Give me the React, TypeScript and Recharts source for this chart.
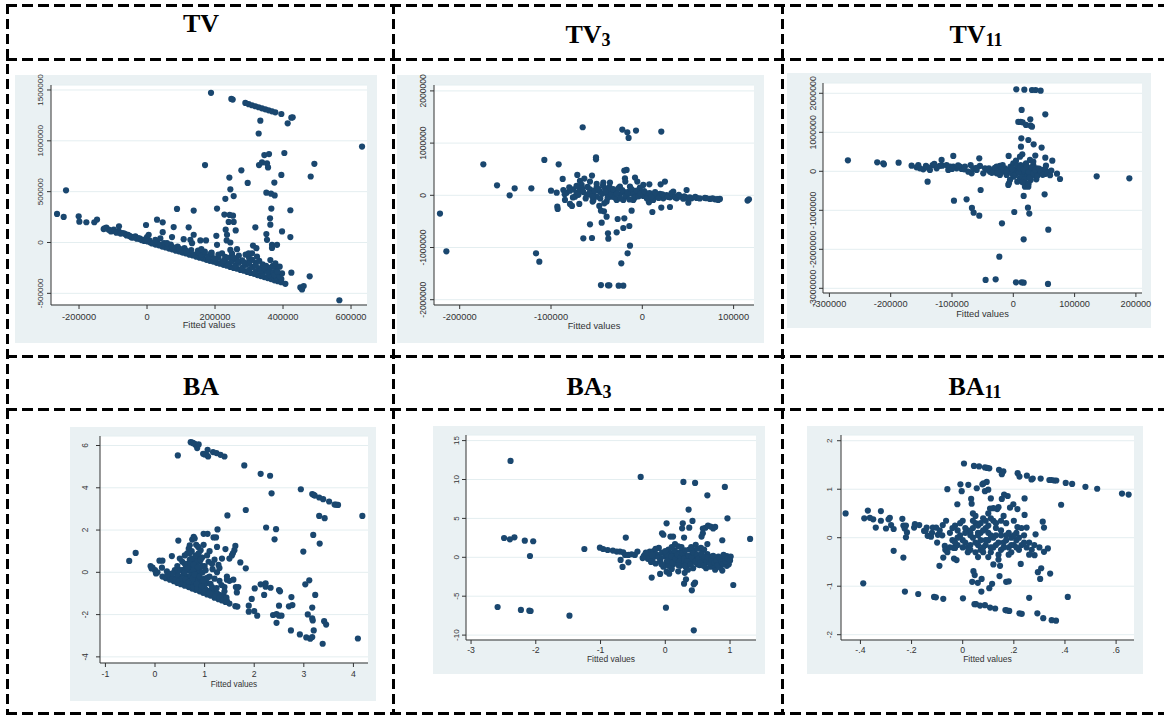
import { ScatterChart, Scatter, XAxis, YAxis, CartesianGrid } from 'recharts';

type Pt = [number, number];

// residuals (y) vs fitted values (x)
const tvPoints: Pt[] = [
  [-264700, 281000], [-245100, 252000], [-238200, 513000], [-201000, 258000], [-199000, 205000],
  [-178400, 199000], [-155000, 199000], [-147000, 225000],
  [-127500, 132000], [-119600, 146000], [-112700, 126000], [-105900, 109000], [-98000, 126000],
  [-82400, 159000], [-83300, 109000], [-73500, 93000], [-63700, 83000], [-55900, 76000],
  [-49000, 60000], [-41200, 53000], [-34300, 60000], [-27500, 43000], [-19600, 33000],
  [-11800, 26000], [-2900, 172000], [0, 53000], [4900, 76000], [6900, 20000],
  [-125000, 140000], [-108000, 118000], [-95000, 112000], [-90000, 96000], [-78000, 88000],
  [-68000, 90000], [-60000, 70000], [-52000, 66000], [-45000, 48000], [-38000, 50000],
  [-30000, 38000], [-22000, 40000], [-15000, 22000], [-8000, 15000], [-4000, 30000],
  [2000, 10000], [10000, 0],
  [15000, -10000], [25000, -20000], [35000, -28000], [45000, -40000], [55000, -48000],
  [65000, -60000], [75000, -68000], [85000, -80000], [95000, -88000], [105000, -100000],
  [115000, -108000], [125000, -120000], [135000, -128000], [145000, -140000], [155000, -150000],
  [165000, -158000], [175000, -170000], [185000, -180000], [195000, -188000], [205000, -200000],
  [215000, -208000], [225000, -220000], [235000, -228000], [245000, -240000], [255000, -250000],
  [265000, -258000], [275000, -270000], [285000, -278000], [295000, -290000], [305000, -300000],
  [315000, -308000], [325000, -320000], [335000, -330000], [345000, -340000], [355000, -350000],
  [365000, -360000], [375000, -372000], [385000, -380000], [395000, -390000],
  [20000, -5000], [40000, -25000], [60000, -45000], [80000, -60000], [100000, -85000],
  [120000, -100000], [140000, -118000], [160000, -135000], [180000, -155000], [200000, -175000],
  [220000, -195000], [240000, -210000], [260000, -230000], [280000, -250000], [300000, -270000],
  [320000, -285000], [340000, -305000], [360000, -320000], [380000, -340000], [395000, -360000],
  [30000, 10000], [50000, -5000], [70000, -20000], [90000, -40000], [110000, -55000],
  [130000, -75000], [150000, -95000], [170000, -110000], [190000, -130000], [210000, -150000],
  [230000, -165000], [250000, -185000], [270000, -200000], [290000, -220000], [310000, -240000],
  [330000, -255000], [350000, -270000], [370000, -290000], [385000, -300000],
  [210000, -120000], [230000, -140000], [260000, -160000], [280000, -175000], [300000, -190000],
  [320000, -200000], [340000, -215000], [350000, -230000], [360000, -250000], [330000, -180000],
  [300000, -150000], [270000, -130000], [250000, -110000], [240000, -150000], [290000, -120000],
  [310000, -170000], [335000, -275000], [355000, -290000], [375000, -320000], [390000, -335000],
  [380000, -260000], [370000, -230000], [345000, -250000], [320000, -230000], [300000, -210000],
  [285000, -195000], [265000, -180000], [255000, -150000], [225000, -180000], [200000, -160000],
  [180000, -140000], [160000, -120000], [150000, -80000], [170000, -90000], [190000, -100000],
  [115000, -80000], [95000, -60000], [75000, -45000],
  [29400, 224000], [46100, 198000], [46100, 102000], [24500, 26000], [39200, 40000],
  [58800, -7000], [73500, 53000], [78400, 152000], [88200, 330000], [107800, 33000],
  [122500, 149000], [127500, 26000], [137300, 314000], [137300, 76000], [132400, -7000],
  [156900, 20000], [159800, -66000], [173500, 20000], [170600, 761000], [205900, 334000],
  [203900, 66000], [205900, -23000], [188200, -106000], [227500, 275000], [230400, 430000],
  [243100, 271000], [252900, 264000], [242200, 639000], [245100, 523000], [254900, 457000],
  [240200, 202000], [254900, 202000], [260800, 119000], [231400, 126000], [235300, 76000],
  [234300, 20000], [245100, -73000], [264700, -66000], [245100, 0], [220600, -106000],
  [277500, 710000], [296100, 586000], [311800, -30000], [321600, -56000], [309000, -106000],
  [323500, -139000], [318600, 149000], [299000, -106000], [329400, 761000], [338200, 788000],
  [352900, 778000], [355900, 738000], [345100, 860000], [358800, 870000], [328400, 1072000],
  [333300, 1198000], [374500, 589000], [351000, 490000], [364700, 480000], [375500, 463000],
  [365700, 334000], [361800, 238000], [362700, 175000], [351000, 83000], [352900, 26000],
  [367600, -23000], [382400, -23000], [367600, -53000], [362700, -172000], [377500, -205000],
  [390200, -238000], [397100, -304000], [383300, -287000], [403900, 880000], [395100, 665000],
  [397100, 109000], [421600, 317000], [421600, 53000], [424500, -297000], [406900, -406000],
  [478400, -333000], [451000, -442000], [455900, -462000], [460800, -429000], [481400, 649000],
  [492200, 774000], [565700, -568000], [632400, 943000],
  [188200, 1472000], [248000, 1412000], [252000, 1406000], [289200, 1373000], [299000, 1360000],
  [308800, 1350000], [318600, 1340000], [328400, 1330000], [338200, 1320000], [348000, 1310000],
  [357800, 1300000], [367600, 1290000], [377400, 1280000], [395100, 1264000], [428400, 1231000],
  [424500, 1228000], [413700, 1172000],
];

const tv3Points: Pt[] = [
  [-221600, -351000], [-214600, -1074000], [-174100, 594000], [-159100, 192000], [-145300, 0],
  [-139800, 134000], [-121500, 134000], [-116400, -1112000], [-112800, -1272000], [-107300, 677000],
  [-100000, 89000], [-91600, 594000], [-93800, 51000], [-93100, -217000], [-92700, -262000],
  [-87200, 313000], [-84700, -89000], [-79200, -166000], [-77000, -204000], [-71200, 390000],
  [-68300, 275000], [-65300, 1304000], [-64600, -824000], [-63500, 320000], [-69000, -166000],
  [-57300, -556000], [-55100, -818000], [-55100, 377000], [-54400, -121000], [-50700, 690000],
  [-50700, 728000], [-47100, -204000], [-45300, -294000], [-44500, -524000], [-42000, -307000],
  [-41600, -153000], [-39100, -409000], [-37600, -728000], [-37200, -831000], [-45300, -1719000],
  [-37600, -1725000], [-36100, -1725000], [-25900, -1732000], [-20800, -1732000], [-23000, -1304000],
  [-28100, -709000], [-27000, -454000], [-19700, -441000], [-20800, -626000], [-14200, -588000],
  [-16100, -1112000], [-13500, -965000], [-11700, -294000], [-21900, 1259000], [-16400, 1208000],
  [-15000, 1099000], [-6900, 1240000], [20800, 1220000], [-19700, 473000], [-17200, 486000],
  [-19000, 326000], [-18600, 262000], [-8000, 339000], [-5500, 262000], [7700, 211000],
  [20100, 211000], [24800, 262000], [11000, -320000], [20800, -236000], [7300, -134000],
  [30300, -224000], [33900, 70000], [48500, 102000], [50400, -141000], [115300, -102000],
  [116800, -77000],
  [-86500, 102000], [-82900, 51000], [-79200, 89000], [-75600, 115000], [-72000, 51000],
  [-68300, 102000], [-64600, 64000], [-61000, 6000], [-57300, 115000], [-53700, 38000],
  [-50000, 153000], [-46400, 70000], [-42700, 243000], [-40900, 134000], [-39100, 38000],
  [-35400, 102000], [-33600, -26000], [-31800, 51000], [-28100, 89000], [-24500, 19000],
  [-20800, 70000], [-17200, -26000], [-13500, 38000], [-9900, 89000], [-6200, 6000],
  [-2600, 51000], [1100, -13000], [4700, 38000], [8400, -38000], [12000, 19000],
  [15700, -26000], [19300, 26000], [23000, -58000], [26600, 6000], [30300, -38000],
  [33900, -13000], [37600, -58000], [41200, -26000], [44900, -64000], [48500, -45000],
  [54000, -58000], [59500, -51000], [68600, -51000], [74100, -70000], [79600, -77000],
  [83200, -89000], [85000, -70000],
  [-57300, 262000], [-50000, 217000], [-35400, 243000], [-28100, -89000], [-53700, -102000],
  [-39100, -121000], [-20800, -89000], [-13500, 166000], [1100, 198000], [-50000, -26000],
  [-24500, 166000], [-9900, -89000], [-2600, 147000], [12000, -89000], [-66400, 198000],
  [-73700, -26000],
  [-85000, 20000], [-80000, 150000], [-76000, -40000], [-72000, 180000], [-70000, 10000],
  [-66000, 140000], [-62000, -60000], [-60000, 160000], [-58000, 40000], [-55000, -20000],
  [-52000, 90000], [-48000, 120000], [-46000, -60000], [-44000, 30000], [-43000, 190000],
  [-40000, 80000], [-38000, -50000], [-36000, 160000], [-34000, 20000], [-32000, 120000],
  [-30000, -40000], [-28000, 30000], [-26000, 140000], [-24000, -60000], [-22000, 100000],
  [-18000, -10000], [-16000, 60000], [-14000, -80000], [-12000, 120000], [-10000, 20000],
  [-8000, -40000], [-6000, 90000], [-4000, -20000], [-2000, 30000], [2000, 80000],
  [5000, -60000], [8000, 40000], [10000, -30000], [14000, 60000], [18000, -50000],
  [22000, 20000], [28000, -30000], [32000, 40000], [36000, -40000], [40000, 10000],
  [46000, -20000], [52000, -40000], [58000, -30000], [63000, -60000], [70000, -55000],
  [77000, -60000], [82000, -75000],
];

const tv11Points: Pt[] = [
  [-269800, 282000], [-222000, 231000], [-212200, 205000], [-211100, 179000], [-187100, 222000],
  [-165900, 145000], [-157800, 103000], [-155000, 162000], [-146900, 51000], [-142500, 137000],
  [-139800, -265000], [-131600, 162000], [-128900, 188000], [-117000, 291000], [-115900, 145000],
  [-106100, 34000], [-97900, 393000], [-97900, 120000], [-96800, -752000], [-87000, 120000],
  [-84300, 60000], [-76200, -718000], [-69600, 162000], [-68000, -51000], [-67500, -940000],
  [-64700, -1060000], [-55500, 333000], [-54400, 137000], [-53300, -479000], [-55500, -1137000],
  [-45200, -2786000], [-28800, -2769000], [-22800, -2188000], [-18500, -1333000], [-39700, 77000],
  [-32600, 34000], [-21800, 137000], [-17400, 162000], [-8200, -350000], [-7100, -308000],
  [-7600, 393000], [1600, -1043000], [4400, -2846000], [13600, -2846000], [16900, -2855000],
  [4900, 2103000], [18000, 2094000], [30500, 2085000], [36400, 2085000], [44600, 2068000],
  [13600, 1573000], [52200, 1462000], [8200, 1265000], [12000, 1265000], [15200, 1256000],
  [20700, 1188000], [28300, 1171000], [30500, 1145000], [27700, 1333000], [13100, 846000],
  [12500, 632000], [24500, 803000], [33200, 692000], [46200, 607000], [14700, 436000],
  [35900, 402000], [52200, 350000], [53300, 145000], [63600, 273000], [16900, -632000],
  [23900, -932000], [26100, -1085000], [51100, -590000], [57100, -1496000], [16900, -1744000],
  [56600, -2889000], [37500, -205000], [71300, -60000], [76200, -197000], [136000, -128000],
  [189300, -179000],
  [-27200, -51000], [-21800, -94000], [-16300, -9000], [-13600, 77000], [-10900, -94000],
  [-6500, 34000], [-4400, 120000], [-2700, -51000], [0, 205000], [0, -137000],
  [2700, 34000], [4400, 273000], [5400, -51000], [6500, -265000], [8200, 120000],
  [9800, -9000], [10900, -179000], [12000, 162000], [13600, 34000], [15200, -94000],
  [16300, 120000], [17400, -265000], [19000, -9000], [20700, 205000], [21800, -137000],
  [22800, -350000], [24500, 77000], [26100, -51000], [27200, 291000], [28300, -222000],
  [29900, 34000], [31600, -94000], [32600, 162000], [35400, -9000], [38100, 77000],
  [40800, -51000], [43500, 17000], [46200, -34000], [49000, 34000], [51700, -68000],
  [54400, -9000], [-5400, -222000], [19000, -393000], [24500, -393000], [10900, 376000],
  [32600, 248000], [-27200, 120000], [-38100, -9000], [-46200, 77000], [-49000, -51000],
  [-59800, 34000], [-65300, 77000], [-73400, -9000], [-78900, 120000], [-92500, 77000],
  [-103000, 120000], [-108800, 162000], [-125100, 77000], [-136000, 34000], [-152300, 77000],
  [-2000, 60000], [3000, -100000], [6000, 150000], [9000, -30000], [11000, 80000],
  [14000, -150000], [17000, 50000], [19000, -200000], [22000, 130000], [25000, -20000],
  [27000, -160000], [30000, 100000], [33000, -60000], [36000, 40000], [39000, -120000],
  [42000, 70000], [45000, -10000], [48000, -90000], [52000, 60000], [56000, -40000],
  [60000, -100000], [62000, 20000], [-12000, 10000], [-20000, 50000], [-25000, -20000],
  [-30000, 90000], [-35000, -40000], [-42000, 40000], [-60000, 90000], [-80000, 50000],
  [-90000, 150000], [-100000, 60000], [-120000, 140000], [-140000, 100000], [20000, -300000],
  [25000, -320000], [15000, -280000],
];

const baPoints: Pt[] = [
  [0.72, 6.16], [0.75, 6.14], [0.77, 6.11], [0.8, 6.08], [0.82, 6.03], [0.85, 5.88], [0.88, 6.05],
  [0.97, 5.61], [1.0, 5.58], [1.04, 5.56], [1.07, 5.48], [1.06, 5.8], [1.17, 5.69], [1.24, 5.64],
  [1.32, 5.56], [1.4, 5.48], [1.8, 5.06], [2.13, 4.66], [2.32, 4.57], [2.35, 3.74], [2.94, 3.93],
  [3.17, 3.7], [3.2, 3.66], [3.22, 3.63], [3.31, 3.54], [3.39, 3.46], [3.51, 3.35], [3.62, 3.21],
  [3.65, 3.2], [3.69, 3.19], [0.46, 5.53],
  [1.83, 2.95], [1.46, 2.69], [3.31, 2.67], [3.42, 2.56], [4.18, 2.67], [2.24, 2.12], [2.44, 2.04],
  [2.41, 1.56], [3.19, 1.77], [3.32, 1.36], [2.99, 0.98], [3.03, -0.57], [3.11, -0.38], [3.23, -1.07],
  [3.17, -1.67], [3.08, -1.99], [3.17, -2.18], [3.18, -2.28], [3.2, -2.75], [2.74, -2.75], [2.92, -2.94],
  [3.05, -3.08], [3.13, -3.14], [3.17, -3.06], [3.38, -3.38], [3.41, -2.31], [3.45, -2.47], [4.09, -3.13],
  [2.75, -1.17], [2.77, -1.55], [2.7, -1.61], [2.5, -0.84], [2.52, -0.9], [2.5, -1.58], [2.38, -2.02],
  [2.45, -1.98], [2.5, -2.05], [2.55, -2.05], [2.45, -2.39], [2.23, -0.52], [2.23, -0.68], [2.13, -0.57],
  [2.33, -0.73], [2.2, -1.07], [2.01, -0.76], [1.95, -1.26], [1.89, -1.58], [1.89, -1.86], [2.0, -1.83],
  [2.06, -2.05], [1.83, 0.19], [1.72, 0.47],
  [-0.52, 0.54], [-0.39, 0.92], [-0.09, 0.3], [-0.07, 0.18], [0.0, 0.1], [0.02, -0.05], [0.09, 0.55],
  [0.15, 0.55], [0.14, 0.22], [0.24, 0.05], [0.34, 0.77], [-0.05, 0.22], [0.05, 0.0],
  [0.47, 1.5], [0.7, 1.28], [0.68, 1.12], [0.75, 1.55], [0.78, 1.68], [0.8, 1.6], [0.83, 1.3],
  [0.87, 1.2], [0.98, 1.82], [1.06, 1.82], [1.18, 1.65], [1.23, 1.65], [1.26, 2.03], [1.25, 1.2],
  [1.1, 1.0], [0.92, 1.05], [0.95, 0.7], [1.42, 1.1], [1.5, 0.65], [1.55, 0.8], [1.6, 1.05],
  [1.62, 1.25], [1.57, 0.9], [1.45, -0.2], [1.45, -0.35], [1.5, -0.4], [1.58, -0.35], [1.63, -0.7],
  [1.65, -0.95], [1.68, -0.7], [1.62, -1.6], [1.66, -1.62], [1.2, 0.6], [1.15, 0.4], [1.3, 0.2],
  [1.35, 0.65], [1.25, 0.0], [1.3, -0.4], [1.4, -0.7], [1.38, -1.1], [1.3, -1.25], [1.2, -0.9],
  [0.6, 0.8], [0.55, 0.5], [0.45, 0.3], [0.5, 0.65], [0.65, 0.9], [1.0, 0.3], [1.05, 0.8], [0.9, 0.5],
  [0.15, -0.2], [0.22, -0.28], [0.3, -0.35], [0.38, -0.42], [0.45, -0.5], [0.52, -0.56], [0.6, -0.63],
  [0.68, -0.7], [0.75, -0.77], [0.82, -0.83], [0.9, -0.9], [0.97, -0.97], [1.05, -1.05], [1.12, -1.1],
  [1.2, -1.2], [1.28, -1.27], [1.35, -1.33], [1.42, -1.4], [1.5, -1.48],
  [0.3, -0.2], [0.4, -0.28], [0.5, -0.35], [0.58, -0.45], [0.65, -0.5], [0.72, -0.58], [0.8, -0.62],
  [0.88, -0.7], [0.95, -0.75], [1.02, -0.82], [1.1, -0.88], [1.18, -0.95], [1.25, -1.0], [1.32, -1.08],
  [0.65, -0.2], [0.68, 0.1], [0.7, -0.3], [0.72, 0.3], [0.74, -0.1], [0.76, 0.5], [0.78, -0.4],
  [0.8, 0.2], [0.82, -0.2], [0.84, 0.4], [0.86, 0.0], [0.88, -0.3], [0.7, 0.6], [0.75, 0.0],
  [0.8, -0.5], [0.85, 0.7], [0.9, 0.1], [0.92, -0.5], [0.95, 0.3], [0.62, 0.2], [0.58, -0.1],
  [0.55, 0.1], [0.5, -0.2], [0.66, 0.4], [0.7, -0.55], [0.78, 0.15], [0.82, 0.55], [0.73, -0.45],
  [1.0, -0.3], [1.05, -0.5], [1.1, -0.2], [1.15, -0.7], [1.0, -0.6],
  [0.35, -0.3], [0.42, -0.35], [0.48, -0.42], [0.55, -0.48], [0.62, -0.55], [0.7, -0.62], [0.77, -0.7],
  [0.85, -0.76], [0.93, -0.82], [1.0, -0.9], [1.08, -0.97], [1.15, -1.05], [1.22, -1.12], [1.3, -1.2],
  [1.38, -1.28], [1.45, -1.36],
  [0.45, -0.1], [0.5, 0.1], [0.55, -0.3], [0.6, 0.0], [0.62, -0.35], [0.65, 0.2], [0.68, -0.45],
  [0.7, 0.4], [0.72, -0.15], [0.74, 0.65], [0.76, -0.3], [0.78, 0.35], [0.8, -0.1], [0.82, 0.8],
  [0.84, -0.55], [0.86, 0.25], [0.88, 0.9], [0.9, -0.2], [0.92, 0.6], [0.94, -0.65], [0.96, 0.0],
  [0.98, -0.4], [1.02, 0.1], [1.06, -0.25], [1.08, 0.5], [1.12, -0.55], [1.16, 0.15], [1.2, -0.3],
  [1.24, -0.75], [1.28, 0.35], [1.34, -0.6], [1.4, -0.9], [1.44, -1.2], [1.1, -1.0], [0.98, 1.3],
  [0.74, 1.0], [0.7, 0.9], [0.6, 0.4], [0.4, 0.1], [0.35, -0.05], [0.25, -0.1],
];

const ba3Points: Pt[] = [
  [-2.39, 12.39], [-2.49, 2.48], [-2.4, 2.31], [-2.33, 2.57], [-2.17, 2.14], [-2.04, 2.06], [-2.09, 0.17],
  [-2.59, -6.39], [-2.23, -6.77], [-2.1, -6.86], [-2.08, -6.9], [-1.48, -7.5], [-1.25, 1.07], [-1.01, 1.24],
  [-0.96, 1.07], [-0.89, 0.94], [-0.81, 0.86], [-0.75, 0.73], [-0.7, 0.73], [-0.65, 0.64], [-0.61, 2.53],
  [-0.69, -0.34], [-0.66, -1.24], [-0.57, -0.64], [-0.62, 0.3], [-0.57, 0.3], [-0.52, 0.39], [-0.47, 0.3],
  [-0.43, 0.73], [-0.38, 10.33], [-0.31, 0.39], [-0.28, 0.09], [-0.24, 0.73], [0.28, 9.69], [0.46, 9.56],
  [0.92, 9.04], [0.65, 7.97], [0.36, 6.13], [0.96, 5.01], [0.02, 4.37], [0.27, 4.37], [0.42, 4.67],
  [0.26, 3.73], [0.37, 3.81], [0.58, 3.7], [0.62, 3.8], [0.66, 4.07], [0.7, 3.95], [0.74, 3.7],
  [0.77, 3.9], [0.58, 3.09], [0.56, 2.66], [-0.05, 3.09], [-0.03, 2.9], [0.08, 2.66], [0.12, 2.66],
  [0.29, 2.53], [0.88, 2.19], [1.31, 2.36], [0.82, 0.09], [0.95, 0.17], [1.01, 0.09], [1.05, -3.56],
  [0.44, -3.47], [0.46, -3.26], [0.29, -3.39], [0.32, -2.83], [0.41, -4.24], [0.01, -6.47], [0.44, -9.39],
  [-0.21, -2.61], [-0.08, -2.14], [0.02, -1.85], [0.06, -2.1],
  [-0.25, 0.5], [-0.2, -0.3], [-0.18, 0.8], [-0.15, -0.8], [-0.12, 0.2], [-0.1, 1.2], [-0.08, -0.5],
  [-0.05, 0.6], [-0.03, -1.2], [0.0, 0.1], [0.02, -0.6], [0.05, 1.0], [0.07, -0.2], [0.1, 0.5],
  [0.12, -0.9], [0.15, 0.2], [0.17, -0.4], [0.2, 1.4], [0.22, -0.1], [0.25, 0.7], [0.27, -0.7],
  [0.3, 0.3], [0.32, -1.3], [0.35, 0.0], [0.37, 1.0], [0.4, -0.5], [0.42, 0.5], [0.45, -0.2],
  [0.47, 1.6], [0.5, -0.9], [0.52, 0.2], [0.55, -0.4], [0.57, 0.8], [0.6, -0.1], [0.62, -0.7],
  [0.65, 0.4], [0.67, -0.3], [0.7, -1.2], [0.72, 0.1], [0.75, -0.5], [0.77, -1.6], [0.8, -0.2],
  [0.82, -0.8], [0.85, -0.4], [0.88, -1.7], [0.9, -0.6], [0.92, -0.3], [0.95, -1.1], [0.97, -0.6],
  [0.1, -1.5], [0.2, -1.8], [0.3, -2.0], [0.15, 1.7], [0.25, 1.3], [0.05, -1.1], [-0.15, 1.1],
  [0.35, -1.6], [0.55, 1.2], [0.65, 1.7], [0.6, 1.0], [0.45, 0.9], [0.18, 0.6], [0.08, 0.4],
  [0.28, -0.4], [0.38, -0.2], [0.48, 0.0], [0.58, -0.3], [0.68, -0.6], [0.78, -0.9], [0.85, -1.3],
  [0.73, -1.0], [0.63, -1.4], [0.53, -1.0], [0.43, -1.4], [0.33, -0.8], [0.23, -1.1], [0.13, -0.1],
  [0.03, 0.3], [-0.07, -0.1], [-0.17, 0.1], [-0.27, -0.2], [-0.33, 0.2], [0.9, 0.3], [0.98, -0.9],
  [-0.3, 0.6], [-0.22, -0.6], [-0.14, 0.4], [-0.06, -0.9], [0.0, 0.8], [0.04, -0.4], [0.09, 0.1],
  [0.11, -0.7], [0.14, 0.9], [0.16, -0.2], [0.19, 0.3], [0.21, -0.6], [0.24, 0.0], [0.26, 0.5],
  [0.29, -0.2], [0.31, 0.9], [0.34, -0.5], [0.36, 0.2], [0.39, -0.9], [0.41, 0.0], [0.44, 0.6],
  [0.46, -0.6], [0.49, 0.3], [0.51, -0.2], [0.54, -0.7], [0.56, 0.4], [0.59, -1.1], [0.61, 0.1],
  [0.64, -0.5], [0.66, 0.0], [0.69, -0.8], [0.71, -0.3], [0.74, 0.2], [0.76, -0.7], [0.79, -0.4],
  [0.81, -1.0], [0.84, -0.1], [0.87, -0.6], [0.89, -0.9], [0.93, -0.5], [0.96, -0.2], [1.0, -0.4],
  [0.2, -1.0], [0.4, 1.3], [0.5, 1.1], [0.3, -1.1], [0.1, 1.3], [-0.1, 0.0], [-0.2, 0.3], [-0.35, -0.1],
];

const ba11Points: Pt[] = [
  [-0.458, 0.5], [-0.389, -0.94], [-0.385, 0.4], [-0.371, 0.56], [-0.363, 0.41], [-0.35, 0.38],
  [-0.32, 0.35], [-0.32, 0.55], [-0.34, 0.21], [-0.3, 0.19], [-0.29, 0.38], [-0.285, 0.41], [-0.28, 0.26],
  [-0.27, 0.18], [-0.27, -0.27], [-0.236, 0.39], [-0.232, 0.25], [-0.227, 0.19], [-0.222, 0.25],
  [-0.222, 0.01], [-0.218, 0.11], [-0.232, -0.41], [-0.226, -1.11], [-0.19, 0.21], [-0.187, 0.28],
  [-0.17, 0.26], [-0.174, -1.16], [-0.151, 0.14], [-0.145, 0.14], [-0.137, 0.04], [-0.141, 0.21],
  [-0.117, 0.21], [-0.124, 0.02], [-0.112, -1.22], [-0.105, -1.23], [-0.104, 0.21], [-0.097, 0.06],
  [-0.091, -0.58], [-0.076, -1.26], [-0.078, 0.26], [-0.076, -0.41], [-0.065, 0.35], [-0.06, 1.0],
  [-0.07, -0.17], [-0.068, -0.25], [-0.034, -0.21], [-0.03, -0.21], [-0.034, -0.43], [-0.024, -0.46],
  [-0.009, 1.1], [-0.004, 0.96], [-0.021, 0.69], [0.001, -1.25], [0.005, 1.53], [0.022, 1.09],
  [0.044, 1.48], [0.064, 1.47], [0.087, 1.45], [0.096, 1.44], [0.104, 1.43], [0.081, 1.12],
  [0.094, 1.15], [0.087, 0.96], [0.1, 0.99], [0.055, 1.02], [0.077, 1.1], [0.142, 1.4], [0.159, 1.37],
  [0.153, 1.31], [0.215, 1.33], [0.222, 1.26], [0.251, 1.28], [0.269, 1.2], [0.274, 1.22], [0.305, 1.22],
  [0.339, 1.19], [0.348, 1.19], [0.358, 1.18], [0.366, 1.18], [0.403, 1.13], [0.428, 1.11], [0.48, 1.05],
  [0.526, 1.01], [0.623, 0.91], [0.649, 0.89], [0.385, 0.68], [0.242, 0.81], [0.176, 0.86], [0.162, 0.89],
  [0.153, 0.8], [0.11, 0.81], [0.033, 0.8], [0.035, 0.7], [0.14, 0.63], [0.135, 0.59], [0.12, 0.61],
  [0.107, 0.6], [0.198, 0.69], [0.185, 0.62], [0.214, 0.59], [0.242, 0.47], [0.313, 0.33], [0.318, 0.21],
  [0.285, 0.07], [0.25, 0.21], [0.214, 0.22], [0.333, -0.22], [0.318, -0.29], [0.281, -0.36],
  [0.307, -0.63], [0.294, -0.71], [0.303, -0.85], [0.342, -0.74], [0.411, -1.22], [0.26, -1.24],
  [0.292, -1.56], [0.315, -1.66], [0.348, -1.7], [0.365, -1.71], [0.222, -1.56], [0.231, -1.57],
  [0.172, -1.5], [0.182, -1.51], [0.167, -1.49], [0.127, -1.46], [0.107, -1.44], [0.087, -1.39],
  [0.068, -1.4], [0.052, -1.37], [0.046, -1.37], [0.104, -1.04], [0.115, -0.95], [0.073, -1.11],
  [0.037, -0.91], [0.059, -0.93], [0.042, -0.69], [0.047, -0.77], [0.074, -0.85], [0.144, -0.79],
  [0.146, -0.58], [0.17, -0.91], [0.18, -0.9], [0.227, -0.54],
  [-0.05, 0.1], [-0.04, -0.05], [-0.03, 0.25], [-0.02, -0.15], [-0.01, 0.05], [0.0, 0.35], [0.01, -0.1],
  [0.02, 0.15], [0.03, -0.25], [0.04, 0.0], [0.05, 0.3], [0.06, -0.15], [0.07, 0.1], [0.08, -0.3],
  [0.09, 0.2], [0.1, -0.05], [0.11, 0.4], [0.12, -0.2], [0.13, 0.05], [0.14, -0.35], [0.15, 0.15],
  [0.16, -0.1], [0.17, 0.3], [0.18, -0.2], [0.19, 0.0], [0.2, -0.15], [0.21, 0.1], [0.22, -0.25],
  [0.02, -0.3], [0.05, 0.45], [0.08, 0.4], [0.1, 0.25], [0.12, 0.35], [0.06, -0.4], [0.1, -0.4],
  [0.14, -0.45], [0.0, -0.2], [-0.02, 0.15], [0.04, 0.2], [0.07, -0.05], [0.11, 0.05], [0.13, -0.15],
  [0.15, -0.25], [0.17, 0.05], [0.19, -0.3], [0.21, -0.05], [0.23, -0.15], [0.25, -0.2], [0.27, -0.25],
  [0.3, -0.2], [0.24, 0.05], [0.03, 0.05], [0.06, 0.1], [0.09, -0.15], [-0.06, -0.3], [-0.08, 0.05],
  [-0.1, -0.1], [0.16, 0.45], [0.2, 0.35], [0.26, -0.35], [0.12, -0.55], [0.06, 0.25],
  [-0.04, 0.2], [-0.03, -0.1], [-0.01, 0.3], [0.0, -0.05], [0.01, 0.2], [0.02, -0.2], [0.03, 0.1],
  [0.04, 0.35], [0.05, -0.1], [0.06, 0.05], [0.07, -0.25], [0.08, 0.15], [0.09, -0.05], [0.1, 0.1],
  [0.11, -0.2], [0.12, 0.0], [0.13, 0.2], [0.14, -0.1], [0.15, 0.05], [0.16, -0.2], [0.17, -0.05],
  [0.18, 0.1], [0.19, -0.15], [0.2, 0.05], [0.21, -0.2], [0.22, 0.0], [0.24, -0.1], [0.26, -0.1],
  [0.28, -0.15], [0.07, 0.3], [0.09, 0.35], [0.05, -0.3], [0.08, -0.2], [0.11, -0.3], [0.13, 0.3],
  [0.03, -0.15], [-0.02, 0.0], [0.01, 0.1], [0.15, 0.35], [0.18, -0.35], [0.04, 0.5], [0.1, 0.5],
  [-0.05, -0.2], [-0.09, 0.15], [-0.12, 0.1], [0.23, 0.2],
];

const tvXTicks = [-200000, 0, 200000, 400000, 600000];
const tvYTicks = [-500000, 0, 500000, 1000000, 1500000];
const tv3XTicks = [-200000, -100000, 0, 100000];
const tv3YTicks = [-2000000, -1000000, 0, 1000000, 2000000];
const tv11XTicks = [-300000, -200000, -100000, 0, 100000, 200000];
const tv11YTicks = [-3000000, -2000000, -1000000, 0, 1000000, 2000000];
const baXTicks = [-1, 0, 1, 2, 3, 4];
const baYTicks = [-4, -2, 0, 2, 4, 6];
const ba3XTicks = [-3, -2, -1, 0, 1];
const ba3YTicks = [-10, -5, 0, 5, 10, 15];
const ba11XTicks = [-0.4, -0.2, 0, 0.2, 0.4, 0.6];
const ba11YTicks = [-2, -1, 0, 1, 2];

const MARKER = '#1a476f';
const REGION = '#eaf1f3';
const GRID = '#e4eef0';
const AXIS = '#333';
const SANS = '"Liberation Sans", Arial, sans-serif';
const SERIF = '"Liberation Serif", "Times New Roman", serif';

// Stata style: 0.2 -> .2, -0.4 -> -.4
const fmt = (v: number) => String(Math.round(v * 1000) / 1000).replace(/^(-?)0\./, '$1.');

interface Rect { x: number; y: number; w: number; h: number }
interface Panel {
  points: Pt[];
  bg: Rect;
  plot: Rect;
  xDomain: [number, number];
  yDomain: [number, number];
  xTicks: number[];
  yTicks: number[];
  xFont: number;
  yFont: number;
  titleFont: number;
  yLabelOff: number;
  xLabelBase: number;
  titleOff: number;
}

const panels: Panel[] = [
  {
    points: tvPoints, bg: { x: 15, y: 75, w: 362, h: 268 }, plot: { x: 51, y: 85, w: 316, h: 220 },
    xDomain: [-282400, 647000], yDomain: [-614700, 1549000], xTicks: tvXTicks, yTicks: tvYTicks,
    xFont: 9.3, yFont: 8.1, titleFont: 9.3, yLabelOff: 10, xLabelBase: 15, titleOff: 14.7,
  },
  {
    points: tv3Points, bg: { x: 397, y: 75, w: 367, h: 268 }, plot: { x: 434, y: 85, w: 320, h: 220 },
    xDomain: [-228150, 122340], yDomain: [-2101500, 2113000], xTicks: tv3XTicks, yTicks: tv3YTicks,
    xFont: 9.3, yFont: 8.5, titleFont: 9.3, yLabelOff: 11, xLabelBase: 15, titleOff: 14,
  },
  {
    points: tv11Points, bg: { x: 787, y: 73, w: 364, h: 255 }, plot: { x: 823, y: 83, w: 319, h: 210 },
    xDomain: [-310440, 209950], yDomain: [-3120500, 2264000], xTicks: tv11XTicks, yTicks: tv11YTicks,
    xFont: 9.2, yFont: 8.8, titleFont: 9.3, yLabelOff: 10, xLabelBase: 14.3, titleOff: 11.4,
  },
  {
    points: baPoints, bg: { x: 70, y: 427, w: 306, h: 274 }, plot: { x: 100, y: 436, w: 268, h: 227 },
    xDomain: [-1.109, 4.294], yDomain: [-4.29, 6.45], xTicks: baXTicks, yTicks: baYTicks,
    xFont: 8.7, yFont: 8.2, titleFont: 8.2, yLabelOff: 14, xLabelBase: 14.4, titleOff: 14,
  },
  {
    points: ba3Points, bg: { x: 433, y: 426, w: 332, h: 248 }, plot: { x: 466, y: 435, w: 290, h: 205 },
    xDomain: [-3.078, 1.401], yDomain: [-10.63, 15.72], xTicks: ba3XTicks, yTicks: ba3YTicks,
    xFont: 8.7, yFont: 8, titleFont: 8.5, yLabelOff: 9.5, xLabelBase: 13, titleOff: 12,
  },
  {
    points: ba11Points, bg: { x: 807, y: 426, w: 336, h: 248 }, plot: { x: 841, y: 435, w: 293, h: 205 },
    xDomain: [-0.476, 0.67], yDomain: [-2.109, 2.118], xTicks: ba11XTicks, yTicks: ba11YTicks,
    xFont: 8.7, yFont: 8, titleFont: 8.6, yLabelOff: 11, xLabelBase: 13, titleOff: 12,
  },
];

const dot = (props: any) => <circle cx={props.cx} cy={props.cy} r={3.1} fill={MARKER} />;

function ResidualPlot({ p }: { p: Panel }) {
  const data = p.points.map(([x, y]) => ({ x, y }));
  const top = p.plot.y - p.bg.y;
  const right = p.bg.x + p.bg.w - (p.plot.x + p.plot.w);
  const yAxisW = p.plot.x - p.bg.x;
  const xAxisH = p.bg.y + p.bg.h - (p.plot.y + p.plot.h);

  const xTick = ({ x, y, payload }: any) => (
    <text x={x} y={y - 6 + p.xLabelBase} textAnchor="middle" fontSize={p.xFont} fill={AXIS} fontFamily={SANS}>
      {fmt(payload.value)}
    </text>
  );
  const yTick = ({ x, y, payload }: any) => {
    const cx = x + 6 - p.yLabelOff;
    return (
      <text x={cx} y={y} transform={`rotate(-90, ${cx}, ${y})`} textAnchor="middle" dominantBaseline="central"
        fontSize={p.yFont} fill={AXIS} fontFamily={SANS}>
        {fmt(payload.value)}
      </text>
    );
  };

  return (
    <div style={{ position: 'absolute', left: p.bg.x, top: p.bg.y, width: p.bg.w, height: p.bg.h, background: REGION }}>
      <ScatterChart width={p.bg.w} height={p.bg.h} margin={{ top, right, left: 0, bottom: 0 }}>
        <CartesianGrid vertical={false} stroke={GRID} fill="#fff" />
        <XAxis
          type="number"
          dataKey="x"
          domain={p.xDomain}
          ticks={p.xTicks}
          interval={0}
          allowDataOverflow
          height={xAxisH}
          tickSize={4}
          tickMargin={2}
          axisLine={{ stroke: AXIS }}
          tickLine={{ stroke: AXIS }}
          tick={xTick}
          label={{ value: 'Fitted values', position: 'insideBottom', offset: p.titleOff, fontSize: p.titleFont, fill: AXIS, fontFamily: SANS }}
        />
        <YAxis
          type="number"
          dataKey="y"
          domain={p.yDomain}
          ticks={p.yTicks}
          interval={0}
          allowDataOverflow
          width={yAxisW}
          tickSize={4}
          tickMargin={2}
          axisLine={{ stroke: AXIS }}
          tickLine={{ stroke: AXIS }}
          tick={yTick}
        />
        <Scatter data={data} isAnimationActive={false} shape={dot} />
      </ScatterChart>
    </div>
  );
}

const titles = [
  { main: 'TV', sub: '', x: 201, y: 32 },
  { main: 'TV', sub: '3', x: 588, y: 42.7 },
  { main: 'TV', sub: '11', x: 976, y: 42.7 },
  { main: 'BA', sub: '', x: 201, y: 394.5 },
  { main: 'BA', sub: '3', x: 589, y: 394.5 },
  { main: 'BA', sub: '11', x: 975, y: 394.5 },
];

const hLines = [5.5, 59.5, 356.5, 409.5, 713.5];
const vLines = [7.5, 393.5, 782.5];

export default function App() {
  return (
    <div style={{ position: 'absolute', left: 0, top: 0, width: 1164, height: 717, background: '#fff', overflow: 'hidden' }}>
      <style>{'.recharts-surface { overflow: visible; }'}</style>
      <svg width={1164} height={717} style={{ position: 'absolute', left: 0, top: 0 }}>
        {hLines.map((y) => (
          <line key={`h${y}`} x1={6} x2={1164} y1={y} y2={y} stroke="#000" strokeWidth={3} strokeDasharray="11 5" />
        ))}
        {vLines.map((x) => (
          <line key={`v${x}`} x1={x} x2={x} y1={4} y2={715} stroke="#000" strokeWidth={3} strokeDasharray="10 5" />
        ))}
        {titles.map((t) => (
          <text key={t.main + t.sub + t.x + t.y} x={t.x} y={t.y} textAnchor="middle" fontFamily={SERIF} fontWeight="bold" fontSize={26} fill="#000">
            {t.main}
            {t.sub && <tspan fontSize={18} dy={3}>{t.sub}</tspan>}
          </text>
        ))}
      </svg>
      {panels.map((p, i) => (
        <ResidualPlot key={i} p={p} />
      ))}
    </div>
  );
}
